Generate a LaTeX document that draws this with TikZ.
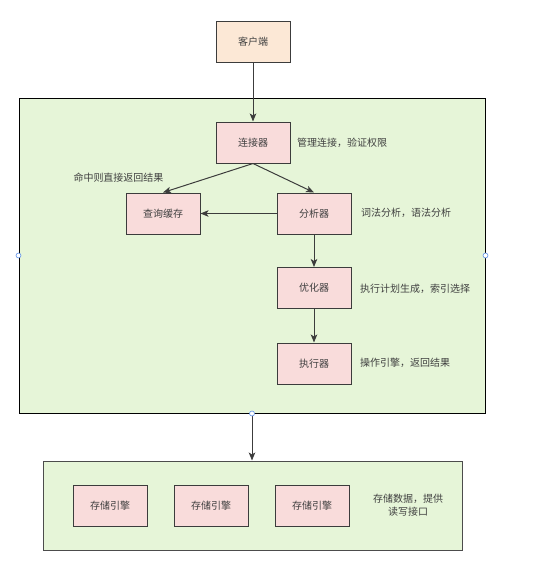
\documentclass[tikz,border=0pt]{standalone}
\usepackage{fontspec}
\newfontfamily\cjk{Noto Sans CJK SC}
\usetikzlibrary{arrows.meta,positioning}
\definecolor{kehu}{HTML}{FCE8D6}
\definecolor{mokuai}{HTML}{F9DCDB}
\definecolor{ceng}{HTML}{E6F5D8}
\definecolor{bian}{HTML}{3C3C3C}
\definecolor{wenzi}{HTML}{404040}
\definecolor{bawang}{HTML}{5B8EE6}

\begin{document}
\begin{tikzpicture}[x=1pt,y=-1pt,
  kuai/.style={draw=bian, line width=1pt, fill=mokuai, minimum width=74pt, minimum height=41pt, font=\cjk\fontsize{10}{12}\selectfont, text=wenzi, inner sep=0pt},
  duan/.style={kuai, fill=kehu},
  ceng/.style={draw=black, line width=1pt, fill=ceng, inner sep=0pt},
  shuoming/.style={font=\cjk\fontsize{10}{13}\selectfont, text=wenzi, inner sep=0pt},
  jiantou/.style={-{Stealth[length=8pt,width=6.5pt,inset=2pt]}, bian, line width=1pt},
  bawang/.style={circle, draw=bawang, fill=white, minimum size=5pt, inner sep=0pt, line width=0.6pt}]
  \useasboundingbox (0,0) rectangle (550,587);
  % layers
  \node[ceng, minimum width=466pt, minimum height=315pt] (server) at (252,255.5) {};
  \node[ceng, draw=black!70, minimum width=419pt, minimum height=89pt] (storage) at (252.5,505.5) {};
  % client
  \node[duan] (KH) at (253,41.5) {客户端};
  % server layer
  \node[kuai] (LJ) at (253,142.5) {连接器};
  \node[kuai] (HC) at (163,213.5) {查询缓存};
  \node[kuai] (FX) at (314,213.5) {分析器};
  \node[kuai] (YH) at (314,288) {优化器};
  \node[kuai] (ZX) at (314,363.5) {执行器};
  % storage layer
  \node[kuai] (YQ1) at (110,505.5) {存储引擎};
  \node[kuai] (YQ2) at (211,505.5) {存储引擎};
  \node[kuai] (YQ3) at (312,505.5) {存储引擎};
  % notes
  \node[shuoming, anchor=west] (sm1) at (297,143) {管理连接，验证权限};
  \node[shuoming] (sm2) at (118.5,178) {命中则直接返回结果};
  \node[shuoming, anchor=west] (sm3) at (361,213) {词法分析，语法分析};
  \node[shuoming, anchor=west] (sm4) at (360,289) {执行计划生成，索引选择};
  \node[shuoming, anchor=west] (sm5) at (360,363) {操作引擎，返回结果};
  \node[shuoming, align=center] (sm6) at (408,505.5) {存储数据，提供\\读写接口};
  % links
  \draw[jiantou] (KH) -- (LJ);
  \draw[jiantou] (LJ.south) -- (HC.north);
  \draw[jiantou] (LJ.south) -- (FX.north);
  \draw[jiantou] (FX) -- (HC);
  \draw[jiantou] (FX) -- (YH);
  \draw[jiantou] (YH) -- (ZX);
  \draw[jiantou] (server.south) -- (server.south |- storage.north);
  % handles
  \node[bawang] (h1) at (server.west) {};
  \node[bawang] (h2) at (server.east) {};
  \node[bawang] (h3) at (server.south) {};
\end{tikzpicture}
\end{document}
